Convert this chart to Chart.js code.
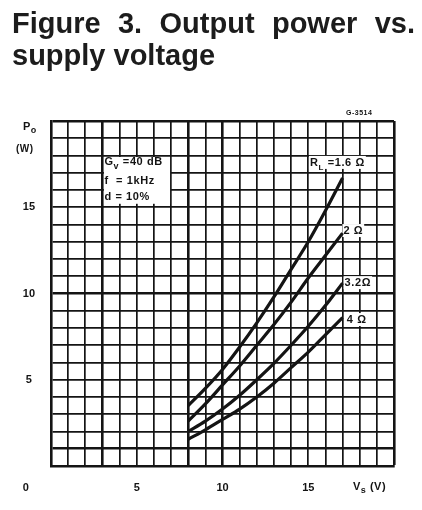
<!DOCTYPE html>
<html>
<head>
<meta charset="utf-8">
<script src="https://cdn.jsdelivr.net/npm/chart.js@4.4.1/dist/chart.umd.min.js"></script>
<style>
  html, body { margin: 0; padding: 0; background: #fff; }
  #wrap { position: relative; width: 422px; height: 510px; }
  #title {
    position: absolute; left: 12px; top: 7px; width: 403px;
    font: bold 29px "Liberation Sans", Arial, sans-serif;
    line-height: 32px; text-align: justify; color: #1c1c1c;
  }
  canvas { position: absolute; left: 0; top: 0; }
</style>
</head>
<body>
<div id="wrap">
  <canvas id="myChart" width="422" height="510"></canvas>
  <div id="title">Figure 3. Output power vs. supply voltage</div>
</div>
<script>
// supply voltage (V) and output power (W)
const voltage = [8, 9, 10, 11, 12, 13, 14, 15, 16, 17];
const power16 = [3.5, 4.5, 5.6, 6.9, 8.3, 9.8, 11.4, 13.0, 14.8, 16.7];
const power2 = [2.6, 3.6, 4.7, 5.8, 7.0, 8.2, 9.5, 10.9, 12.2, 13.5];
const power32 = [2.0, 2.6, 3.3, 4.1, 5.0, 5.95, 7.0, 8.1, 9.3, 10.6];
const power4 = [1.55, 2.1, 2.7, 3.3, 4.0, 4.8, 5.7, 6.6, 7.6, 8.6];
const loads = ['1.6', '2', '3.2', '4'];
const xTickLabels = [5, 10, 15];
const yTickLabels = [5, 10, 15];

const INK = '#141414';
const FONT = '"Liberation Sans", Arial, sans-serif';

function toPoints(values) {
    return voltage.map((v, i) => ({ x: v, y: values[i] }));
}

// text runs: [text, size, dy]
function runs(ctx, parts, x, y) {
    let cx = x;
    parts.forEach(([t, size, dy]) => {
        ctx.font = 'bold ' + size + 'px ' + FONT;
        ctx.fillText(t, cx, y + (dy || 0));
        cx += ctx.measureText(t).width;
    });
    return cx - x;
}

function whiteBox(ctx, x0, y0, x1, y1) {
    ctx.fillStyle = '#fff';
    ctx.fillRect(x0, y0, x1 - x0, y1 - y0);
}

const annotate = {
    id: 'annotate',
    beforeDatasetsDraw(chart) {
        const { ctx } = chart;
        const x = chart.scales.x, y = chart.scales.y;
        ctx.save();
        ctx.textBaseline = 'middle';
        ctx.letterSpacing = '0.6px';

        // conditions box
        whiteBox(ctx, x.getPixelForValue(3) + 1.5, y.getPixelForValue(18) + 1.5,
            x.getPixelForValue(7) - 1, y.getPixelForValue(15.2));
        ctx.fillStyle = INK;
        runs(ctx, [['G', 11], ['v', 9, 4], [' =40 dB', 11]], x.getPixelForValue(3) + 2, y.getPixelForValue(17.6));
        runs(ctx, [['f  = 1kHz', 11]], x.getPixelForValue(3) + 2, y.getPixelForValue(16.55));
        runs(ctx, [['d = 10%', 11]], x.getPixelForValue(3) + 2, y.getPixelForValue(15.6));

        // curve labels
        const labelAt = [
            { v: 15.1, p: 17.57, parts: [['R', 11], ['L', 8, 5], [' =' + loads[0] + ' Ω', 11]] },
            { v: 17.05, p: 13.62, parts: [[loads[1] + ' Ω', 11]] },
            { v: 17.12, p: 10.6, parts: [[loads[2] + 'Ω', 11]] },
            { v: 17.25, p: 8.46, parts: [[loads[3] + ' Ω', 11]] }
        ];
        labelAt.forEach(l => {
            const px = x.getPixelForValue(l.v), py = y.getPixelForValue(l.p);
            let w = 0;
            l.parts.forEach(([t, size]) => {
                ctx.font = 'bold ' + size + 'px ' + FONT;
                w += ctx.measureText(t).width;
            });
            whiteBox(ctx, px - 1, py - 7, px + w + 1, py + 6);
            ctx.fillStyle = INK;
            runs(ctx, l.parts, px, py);
        });
        ctx.restore();
    },
    afterDraw(chart) {
        const { ctx, chartArea } = chart;
        ctx.save();
        ctx.fillStyle = INK;
        ctx.textBaseline = 'middle';
        ctx.letterSpacing = '0.5px';
        // origin label
        ctx.font = 'bold 11px ' + FONT;
        ctx.textAlign = 'center';
        ctx.fillText('0', 26, 488);
        ctx.textAlign = 'left';
        // axis titles
        runs(ctx, [['V', 11], ['s', 9, 4], [' (V)', 11]], 353, 487);
        runs(ctx, [['P', 11], ['o', 9, 4]], 23, chartArea.top + 6);
        runs(ctx, [['(W)', 10]], 16, chartArea.top + 28);
        // figure code
        ctx.font = 'bold 7px ' + FONT;
        ctx.fillText('G-3514', 346, chartArea.top - 8);
        ctx.restore();
    }
};

function gridWidth(thick) {
    return c => (c.tick && thick.includes(c.tick.value)) ? 2.6 : 1.7;
}

const ctx = document.getElementById('myChart').getContext('2d');
const lineStyle = {
    borderColor: INK,
    borderWidth: 3.2,
    pointRadius: 0,
    fill: false,
    cubicInterpolationMode: 'monotone'
};

new Chart(ctx, {
    type: 'line',
    data: {
        datasets: [
            { label: loads[0] + ' Ω', data: toPoints(power16), ...lineStyle },
            { label: loads[1] + ' Ω', data: toPoints(power2), ...lineStyle },
            { label: loads[2] + ' Ω', data: toPoints(power32), ...lineStyle },
            { label: loads[3] + ' Ω', data: toPoints(power4), ...lineStyle }
        ]
    },
    options: {
        responsive: false,
        animation: false,
        layout: { padding: { left: 0, top: 121, right: 28, bottom: 14 } },
        plugins: {
            legend: { display: false },
            tooltip: { enabled: false }
        },
        scales: {
            x: {
                type: 'linear',
                min: 0,
                max: 20,
                afterFit: s => { s.height = 30; },
                border: { display: true, color: INK, width: 2.6 },
                grid: { color: INK, lineWidth: gridWidth([3, 8, 10, 20]), drawTicks: false },
                ticks: {
                    stepSize: 1,
                    autoSkip: false,
                    maxRotation: 0,
                    padding: 15,
                    color: INK,
                    font: { family: FONT, size: 11, weight: 'bold' },
                    callback: v => xTickLabels.includes(v) ? String(v) : ''
                }
            },
            y: {
                min: 0,
                max: 20,
                afterFit: s => { s.width = 51; },
                border: { display: true, color: INK, width: 2.6 },
                grid: { color: INK, lineWidth: gridWidth([1, 10, 20]), drawTicks: false },
                ticks: {
                    stepSize: 1,
                    autoSkip: false,
                    padding: 16,
                    crossAlign: 'center',
                    color: INK,
                    font: { family: FONT, size: 11, weight: 'bold' },
                    callback: v => yTickLabels.includes(v) ? String(v) : ''
                }
            }
        }
    },
    plugins: [annotate]
});
</script>
</body>
</html>
